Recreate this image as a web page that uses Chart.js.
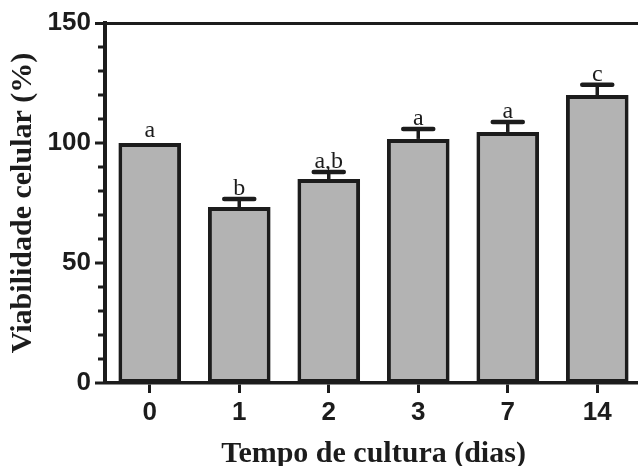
<!DOCTYPE html>
<html>
<head>
<meta charset="utf-8">
<script src="https://cdn.jsdelivr.net/npm/chart.js@4/dist/chart.umd.min.js"></script>
<style>
  html, body { margin: 0; padding: 0; background: #ffffff; overflow: hidden; }
  #wrap { width: 642px; height: 466px; position: relative; }
</style>
</head>
<body>
<div id="wrap"><canvas id="c"></canvas></div>
<script>
// ---- data ----
const categories = ['0', '1', '2', '3', '7', '14'];
const viability = [100, 73.3, 85, 101.7, 104.6, 120];
const sem = [0, 3.4, 2.9, 4.1, 4.2, 4.3];
const letters = ['a', 'b', 'a,b', 'a', 'a', 'c'];
const yMax = 150;
const yMajorStep = 50;
const yMinorStep = 10;
const xTitle = 'Tempo de cultura (dias)';
const yTitle = 'Viabilidade celular (%)';

const INK = '#1c1c1c';

const extrasPlugin = {
  id: 'extras',
  afterDatasetsDraw(chart) {
    const ctx = chart.ctx;
    const ys = chart.scales.y;
    const meta = chart.getDatasetMeta(0);
    ctx.save();
    // minor ticks on y axis
    ctx.strokeStyle = INK;
    ctx.lineWidth = 3;
    for (let v = yMinorStep; v < yMax; v += yMinorStep) {
      if (v % yMajorStep === 0) continue;
      const py = ys.getPixelForValue(v);
      ctx.beginPath();
      ctx.moveTo(chart.chartArea.left - 7, py);
      ctx.lineTo(chart.chartArea.left, py);
      ctx.stroke();
    }
    // error bars + significance letters
    meta.data.forEach((bar, i) => {
      const x = bar.x;
      const yTop = ys.getPixelForValue(viability[i]);
      const yErr = ys.getPixelForValue(viability[i] + sem[i]);
      if (sem[i] > 0) {
        ctx.strokeStyle = INK;
        ctx.lineWidth = 3.5;
        ctx.lineCap = 'butt';
        ctx.beginPath();
        ctx.moveTo(x, yTop);
        ctx.lineTo(x, yErr);
        ctx.stroke();
        ctx.lineWidth = 4.5;
        ctx.lineCap = 'round';
        ctx.beginPath();
        ctx.moveTo(x - 15, yErr);
        ctx.lineTo(x + 15, yErr);
        ctx.stroke();
      }
      ctx.fillStyle = INK;
      ctx.font = '24px "Liberation Serif"';
      ctx.textAlign = 'center';
      ctx.textBaseline = 'alphabetic';
      ctx.fillText(letters[i], x, yErr - (sem[i] > 0 ? 4 : 6));
    });
    ctx.restore();
  }
};

new Chart(document.getElementById('c'), {
  type: 'bar',
  data: {
    labels: categories,
    datasets: [{
      data: viability,
      backgroundColor: '#b3b3b3',
      borderColor: INK,
      borderWidth: 4,
      borderSkipped: false,
      barPercentage: 0.7,
      categoryPercentage: 1.0
    }]
  },
  options: {
    responsive: true,
    maintainAspectRatio: false,
    animation: false,
    layout: { padding: { top: 23, right: 0, bottom: 0, left: 0 } },
    plugins: { legend: { display: false }, tooltip: { enabled: false } },
    scales: {
      x: {
        offset: true,
        afterFit(scale) { scale.height = 83; },
        grid: { display: true, drawOnChartArea: false, drawTicks: true, tickLength: 10, tickWidth: 3, tickColor: INK, offset: false },
        border: { display: true, color: INK, width: 3.5 },
        ticks: { color: INK, font: { family: '"Liberation Sans"', weight: 'bold', size: 26 }, padding: 4, maxRotation: 0 },
        title: {
          display: true,
          text: xTitle,
          color: INK,
          font: { family: '"Liberation Serif"', weight: 'bold', size: 30 },
          padding: { top: 0, bottom: -6 }
        }
      },
      y: {
        min: 0,
        max: yMax,
        afterFit(scale) { scale.width = 105; },
        grid: {
          drawOnChartArea: true,
          drawTicks: true,
          tickLength: 10,
          tickWidth: 3,
          tickColor: INK,
          color: (c) => (c.tick && c.tick.value === yMax ? INK : 'rgba(0,0,0,0)'),
          lineWidth: (c) => (c.tick && c.tick.value === yMax ? 3 : 0)
        },
        border: { display: true, color: INK, width: 4 },
        ticks: { stepSize: yMajorStep, color: INK, font: { family: '"Liberation Sans"', weight: 'bold', size: 26 }, padding: 4 },
        title: {
          display: true,
          text: yTitle,
          color: INK,
          font: { family: '"Liberation Serif"', weight: 'bold', size: 30 },
          padding: { top: 5, bottom: 0 }
        }
      }
    }
  },
  plugins: [extrasPlugin]
});
</script>
</body>
</html>
